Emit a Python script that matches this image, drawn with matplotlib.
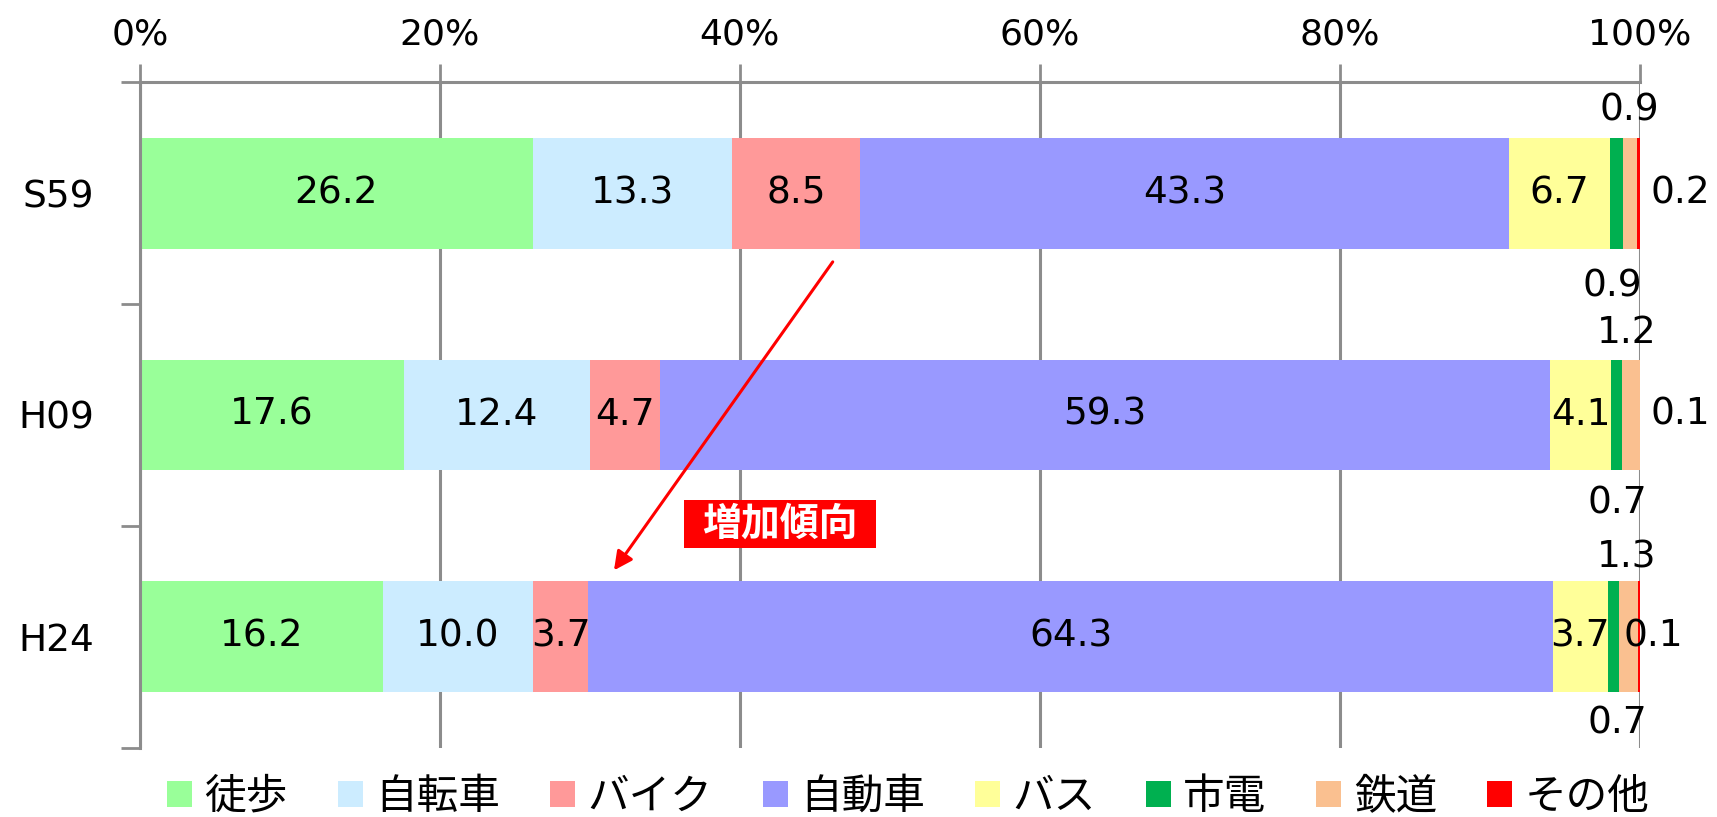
import matplotlib.pyplot as plt
from matplotlib.patches import Rectangle
import numpy as np

plt.rcParams['font.family'] = ['Noto Sans CJK JP', 'DejaVu Sans']

years = ['S59', 'H09', 'H24']
modes = ['徒歩', '自転車', 'バイク', '自動車', 'バス', '市電', '鉄道', 'その他']
shares = {
    '徒歩':   [26.2, 17.6, 16.2],
    '自転車': [13.3, 12.4, 10.0],
    'バイク': [8.5, 4.7, 3.7],
    '自動車': [43.3, 59.3, 64.3],
    'バス':   [6.7, 4.1, 3.7],
    '市電':   [0.9, 0.7, 0.7],
    '鉄道':   [0.9, 1.2, 1.3],
    'その他': [0.2, 0.1, 0.1],
}
xticks = [0, 20, 40, 60, 80, 100]

colors = ['#99FF99', '#CCECFF', '#FF9999', '#9999FF', '#FFFF99', '#00B050', '#FAC090', '#FF0000']
GRID = '#8c8c8c'
NUM = 'DejaVu Sans'

fig = plt.figure(figsize=(17.17, 8.17), dpi=100)
ax = fig.add_axes([0.0815, 0.0845, 0.8735, 0.8151])

y = np.arange(len(years))
left = np.zeros(len(years))
for m, c in zip(modes, colors):
    ax.barh(y, shares[m], left=left, height=0.5, color=c, label=m, zorder=2)
    left += np.array(shares[m])

# value labels inside the big segments
starts = np.zeros(len(years))
for m in modes:
    vals = np.array(shares[m])
    for i, v in enumerate(vals):
        if m in ('徒歩', '自転車', 'バイク', '自動車', 'バス'):
            ax.text(starts[i] + v / 2, i, f'{v:.1f}', ha='center', va='center',
                    fontsize=27, family=NUM, zorder=4)
    starts += vals

# small segments labelled around the bar end (市電 / 鉄道 / その他)
small_pos = {
    'S59': [('市電', 99.3, -0.37), ('鉄道', 98.2, 0.42), ('その他', 102.7, 0.0)],
    'H09': [('鉄道', 99.1, 0.63), ('市電', 98.5, 1.40), ('その他', 102.7, 1.0)],
    'H24': [('鉄道', 99.1, 1.64), ('市電', 98.5, 2.39), ('その他', 100.9, 2.0)],
}
for i, yr in enumerate(years):
    for m, xp, yp in small_pos[yr]:
        ax.text(xp, yp, f'{shares[m][i]:.1f}', ha='center', va='center',
                fontsize=27, family=NUM, zorder=4, clip_on=False)

ax.set_xlim(0, 100)
ax.set_ylim(2.5, -0.5)
ax.xaxis.tick_top()
ax.set_xticks(xticks)
ax.set_xticklabels([f'{t}%' for t in xticks], family=NUM, fontsize=26)
ax.tick_params(axis='x', length=13, width=2, color=GRID, pad=9)
ax.grid(axis='x', color=GRID, lw=2.2, zorder=0)
ax.set_axisbelow(True)

ax.set_yticks([-0.5, 0.5, 1.5, 2.5])
ax.set_yticklabels([])
ax.set_yticks(y, minor=True)
ax.set_yticklabels(years, minor=True, fontsize=27, family=NUM)
ax.tick_params(axis='y', which='major', length=14, width=2, color=GRID)
ax.tick_params(axis='y', which='minor', length=0, pad=33)

for s in ['right', 'bottom']:
    ax.spines[s].set_visible(False)
for s in ['left', 'top']:
    ax.spines[s].set_color(GRID)
    ax.spines[s].set_linewidth(2.2)

# trend arrow and badge
ax.annotate('', xy=(31.5, 1.71), xytext=(46.3, 0.30),
            arrowprops=dict(arrowstyle='-|>', color='#FF0000', lw=2.2,
                            mutation_scale=28), zorder=5)
ax.add_patch(Rectangle((36.3, 1.385), 12.8, 0.212, facecolor='#FF0000',
                       edgecolor='none', zorder=5))
ax.text(42.7, 1.49, '増加傾向', color='white', fontsize=28, fontweight='bold',
        ha='center', va='center', zorder=6)

fig.legend(loc='center', bbox_to_anchor=(0.529, 0.024), ncol=8, frameon=False,
           fontsize=30, handlelength=0.6, handleheight=0.6, handletextpad=0.3,
           columnspacing=1.2, borderaxespad=0)

fig.savefig('out.png', dpi=100)
